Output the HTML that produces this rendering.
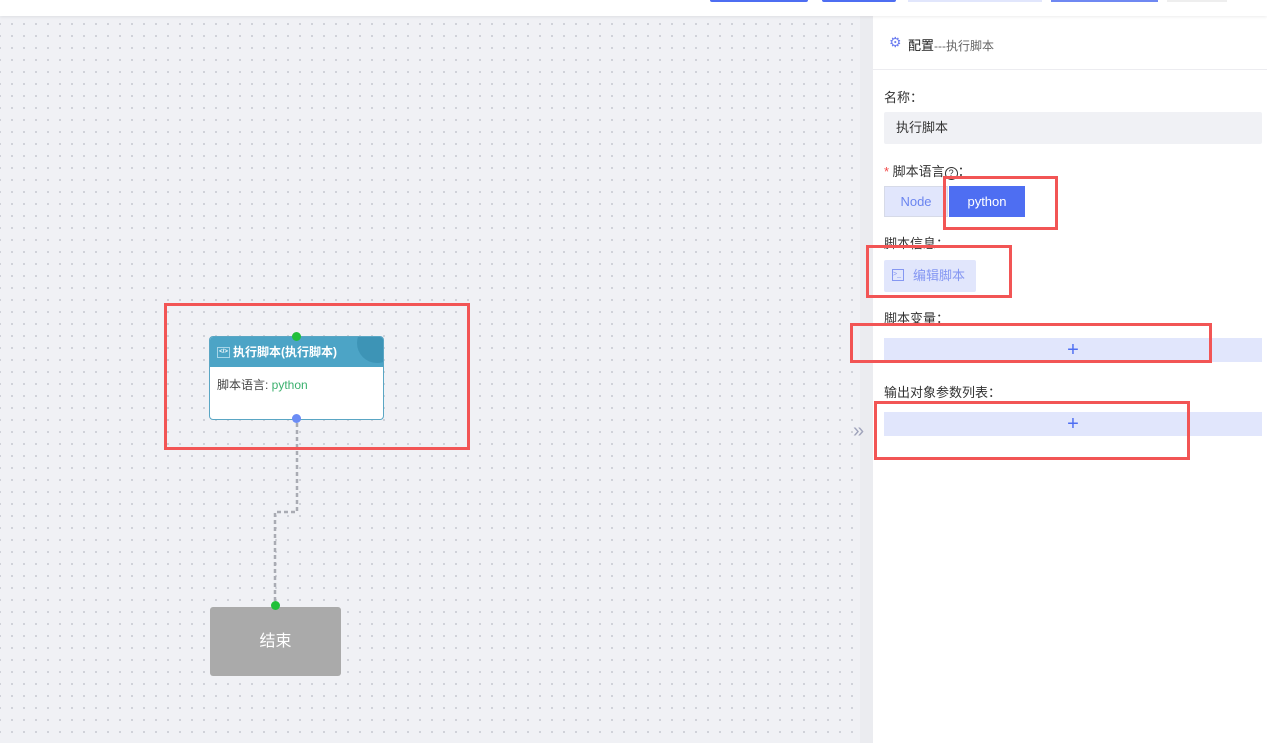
<!DOCTYPE html>
<html><head><meta charset="utf-8"><style>
body{margin:0;width:1267px;height:743px;position:relative;overflow:hidden;font-family:"Liberation Sans","Noto Sans CJK SC",sans-serif;background:#fff}
.abs{position:absolute}
.canvas{left:0;top:16px;width:873px;height:727px;background-color:#f0f1f5;background-image:radial-gradient(circle,#c6c8d0 0.8px,transparent 1px);background-size:12px 12px;background-position:6px 2px}
.strip{left:860px;top:16px;width:13px;height:727px;background:#ebecf0}
.red{border:3px solid #f25555;box-sizing:border-box}
.lbl{font-size:13px;color:#333}
.plus{background:#e1e6fc;height:24px;color:#4e6ef2;font-size:20px;text-align:center;line-height:24px}
</style></head><body>
<div class="abs" style="left:0;top:0;width:1267px;height:16px;background:#fff;box-shadow:0 1px 3px rgba(0,0,0,.08);z-index:2"></div>
<div class="abs" style="left:710px;top:0;width:98px;height:2px;background:#4e6ef2;border-radius:0 0 4px 4px;z-index:3"></div>
<div class="abs" style="left:822px;top:0;width:74px;height:2px;background:#4e6ef2;border-radius:0 0 4px 4px;z-index:3"></div>
<div class="abs" style="left:908px;top:0;width:134px;height:2px;background:#e1e6fc;z-index:3"></div>
<div class="abs" style="left:1051px;top:0;width:107px;height:2px;background:#6f88f2;z-index:3"></div>
<div class="abs" style="left:1167px;top:0;width:60px;height:2px;background:#eee;z-index:3"></div>
<div class="abs canvas"></div>
<div class="abs strip"></div>
<div class="abs" style="left:853px;top:420px;color:#a0a4bb;font-size:20px">»</div>

<!-- node -->
<div class="abs" style="left:209px;top:336px;width:175px;height:84px;background:#fff;border:1px solid #5aa6c4;border-radius:4px;box-sizing:border-box;overflow:hidden">
 <div style="height:30px;background:#4ca4c6;color:#fff;font-size:12px;font-weight:bold;line-height:30px;padding-left:23px;position:relative">执行脚本(执行脚本)
  <div style="position:absolute;right:-14px;top:-14px;width:40px;height:40px;border-radius:50%;background:#3d94b6"></div>
  <div style="position:absolute;left:7px;top:10px;width:11px;height:9px;border:1px solid #a8d6e8;font-size:6px;line-height:9px;text-align:center">&lt;/&gt;</div>
 </div>
 <div style="font-size:12px;color:#444;padding:9px 7px">脚本语言: <span style="color:#3bb06e">python</span></div>
</div>
<div class="abs" style="left:292px;top:332px;width:9px;height:9px;border-radius:50%;background:#22c03a"></div>
<div class="abs" style="left:292px;top:414px;width:9px;height:9px;border-radius:50%;background:#6b8cf5"></div>
<svg class="abs" style="left:0;top:0" width="873" height="743"><path d="M297 423 V512 H275 V605" fill="none" stroke="#a9abb3" stroke-width="2.5" stroke-dasharray="4,3"/></svg>
<div class="abs" style="left:210px;top:607px;width:131px;height:69px;background:#aaaaaa;border-radius:3px;color:#fff;font-size:16px;text-align:center;line-height:69px">结束</div>
<div class="abs" style="left:271px;top:601px;width:9px;height:9px;border-radius:50%;background:#22c03a"></div>
<div class="abs red" style="left:164px;top:303px;width:306px;height:147px"></div>

<!-- panel -->
<div class="abs" style="left:873px;top:16px;width:394px;height:727px;background:#fff"></div>
<div class="abs" style="left:873px;top:69px;width:394px;height:1px;background:#ececf0"></div>
<div class="abs" style="left:889px;top:34px;color:#6b7cf0;font-size:14px">⚙</div>
<div class="abs" style="left:908px;top:35px;font-size:13px;color:#222">配置<span style="color:#666;font-size:12px">---执行脚本</span></div>
<div class="abs lbl" style="left:884px;top:87px">名称：</div>
<div class="abs" style="left:884px;top:112px;width:378px;height:32px;background:#f0f1f5;border-radius:2px;font-size:13px;color:#333;line-height:32px;padding-left:12px;box-sizing:border-box">执行脚本</div>
<div class="abs lbl" style="left:884px;top:161px"><span style="color:#f24848">*</span> 脚本语言<span style="display:inline-block;width:11px;height:11px;border:1px solid #333;border-radius:50%;font-size:9px;line-height:11px;text-align:center">?</span>：</div>
<div class="abs" style="left:884px;top:186px;width:64px;height:31px;background:#e1e6fc;border:1px solid #d6dae8;box-sizing:border-box;color:#6b85f0;font-size:13px;text-align:center;line-height:29px">Node</div>
<div class="abs" style="left:949px;top:186px;width:76px;height:31px;background:#4e6ef2;color:#fff;font-size:13px;text-align:center;line-height:31px">python</div>
<div class="abs lbl" style="left:884px;top:233px">脚本信息：</div>
<div class="abs" style="left:884px;top:260px;width:92px;height:32px;background:#e1e6fc;border-radius:2px;color:#8597f2;font-size:13px;line-height:32px;padding-left:29px;box-sizing:border-box">编辑脚本</div>
<div class="abs" style="left:892px;top:269px;width:10px;height:10px;border:1px solid #8597f2;font-size:7px;line-height:10px;color:#8597f2">&gt;_</div>
<div class="abs lbl" style="left:884px;top:308px">脚本变量：</div>
<div class="abs plus" style="left:884px;top:338px;width:378px">+</div>
<div class="abs lbl" style="left:884px;top:382px">输出对象参数列表：</div>
<div class="abs plus" style="left:884px;top:412px;width:378px">+</div>

<div class="abs red" style="left:943px;top:176px;width:115px;height:54px"></div>
<div class="abs red" style="left:866px;top:245px;width:146px;height:53px"></div>
<div class="abs red" style="left:850px;top:323px;width:362px;height:40px"></div>
<div class="abs red" style="left:874px;top:401px;width:316px;height:59px"></div>
</body></html>
